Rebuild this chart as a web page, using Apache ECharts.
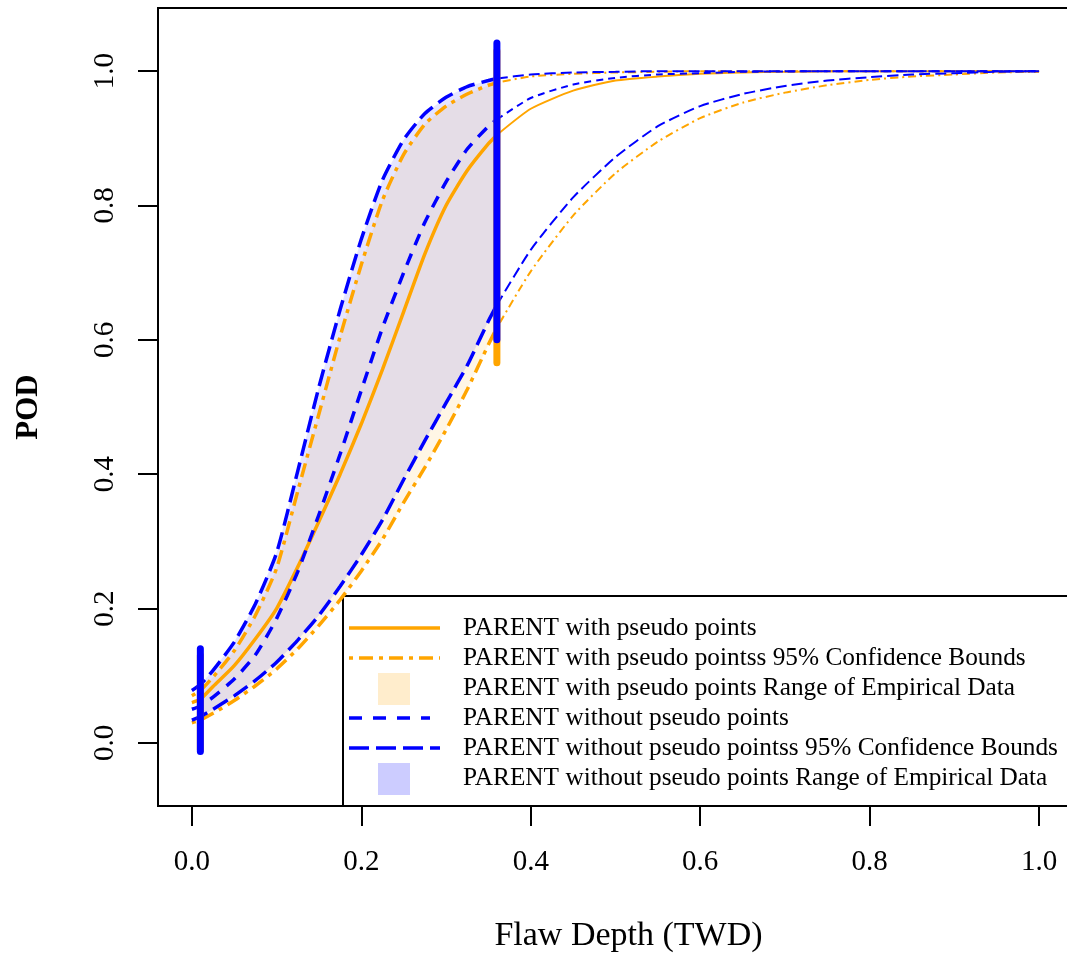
<!DOCTYPE html>
<html><head><meta charset="utf-8">
<script src="https://cdn.jsdelivr.net/npm/echarts@6/dist/echarts.min.js"></script>
<style>html,body{margin:0;padding:0;background:#fff;overflow:hidden;width:1067px;height:955px;}#c{width:1075px;height:955px;}</style>
</head><body><div id="c"></div>
<script>
// ---- data ----
const xs = [0, 0.01, 0.025, 0.05, 0.075, 0.1, 0.125, 0.15, 0.175, 0.2, 0.225, 0.25, 0.275, 0.3, 0.325, 0.35, 0.36, 0.4, 0.45, 0.5, 0.55, 0.6, 0.65, 0.7, 0.75, 0.8, 0.85, 0.9, 0.95, 1.0];
const podWith        = [0.060,0.065,0.084,0.115,0.155,0.200,0.262,0.330,0.400,0.475,0.556,0.642,0.728,0.800,0.852,0.892,0.905,0.944,0.971,0.986,0.992,0.996,0.998,0.999,1.0,1.0,1.0,1.0,1.0,1.0];
const ciWithUpper    = [0.070,0.078,0.098,0.137,0.190,0.260,0.375,0.490,0.605,0.712,0.808,0.876,0.921,0.948,0.966,0.979,0.983,0.992,0.996,0.998,0.999,1.0,1.0,1.0,1.0,1.0,1.0,1.0,1.0,1.0];
const ciWithLower    = [0.030,0.034,0.044,0.063,0.085,0.110,0.140,0.175,0.213,0.256,0.303,0.358,0.410,0.466,0.526,0.593,0.618,0.702,0.785,0.848,0.895,0.930,0.953,0.968,0.979,0.987,0.992,0.995,0.998,0.999];
const podWithout     = [0.050,0.055,0.068,0.095,0.131,0.185,0.255,0.340,0.430,0.525,0.618,0.700,0.775,0.835,0.884,0.918,0.928,0.960,0.980,0.990,0.995,0.997,0.999,0.9995,1.0,1.0,1.0,1.0,1.0,1.0];
const ciWithoutUpper = [0.078,0.087,0.108,0.150,0.207,0.283,0.405,0.530,0.645,0.750,0.838,0.898,0.937,0.961,0.977,0.986,0.989,0.995,0.998,0.999,1.0,1.0,1.0,1.0,1.0,1.0,1.0,1.0,1.0,1.0];
const ciWithoutLower = [0.034,0.039,0.050,0.070,0.093,0.120,0.153,0.190,0.233,0.280,0.332,0.392,0.450,0.506,0.562,0.628,0.652,0.734,0.812,0.872,0.918,0.948,0.966,0.978,0.986,0.991,0.995,0.997,0.999,1.0];
const rangeLimits = [0.01, 0.36];
// vertical range markers: [x, yFrom, yTo]
const segWith    = [[0.01, -0.010, 0.130], [0.36, 0.566, 1.030]];
const segWithout = [[0.01, -0.013, 0.140], [0.36, 0.600, 1.042]];
const xTicks = [0, 0.2, 0.4, 0.6, 0.8, 1.0];
const yTicks = [0, 0.2, 0.4, 0.6, 0.8, 1.0];
const legendLabels = [
  'PARENT with pseudo points',
  'PARENT with pseudo pointss 95% Confidence Bounds',
  'PARENT with pseudo points Range of Empirical Data',
  'PARENT without pseudo points',
  'PARENT without pseudo pointss 95% Confidence Bounds',
  'PARENT without pseudo points Range of Empirical Data'
];

// ---- styles ----
const ORANGE = '#FFA500', BLUE = '#0000FF';
const FONT = 'Liberation Serif';
const W_IN = 3.5, W_OUT = 2;

function pairs(arr, inside) {
  const out = [];
  xs.forEach((x, i) => {
    if (inside ? (x <= rangeLimits[1]) : (x >= rangeLimits[1])) out.push([x, arr[i]]);
  });
  return out;
}
function lineSeries(arr, color, dashIn, dashOut) {
  return [
    {type: 'line', data: pairs(arr, true), showSymbol: false, smooth: 0.2,
     lineStyle: {color: color, width: W_IN, type: dashIn, cap: 'butt'}, silent: true},
    {type: 'line', data: pairs(arr, false), showSymbol: false, smooth: 0.2,
     lineStyle: {color: color, width: W_OUT, type: dashOut, cap: 'butt'}, silent: true}
  ];
}
function fillSeries(upper, lower, fill) {
  return {
    type: 'custom', silent: true, clip: true,
    data: [[rangeLimits[0], lower[1]]],
    renderItem: function (params, api) {
      const pts = [];
      const idx = [];
      xs.forEach((x, i) => { if (x >= rangeLimits[0] && x <= rangeLimits[1]) idx.push(i); });
      idx.forEach(i => pts.push(api.coord([xs[i], upper[i]])));
      idx.slice().reverse().forEach(i => pts.push(api.coord([xs[i], lower[i]])));
      return {type: 'polygon', shape: {points: pts}, style: {fill: fill, stroke: null}};
    }
  };
}
function segSeries(segs, color) {
  return segs.map(s => ({
    type: 'line', data: [[s[0], s[1]], [s[0], s[2]]], showSymbol: false, silent: true,
    lineStyle: {color: color, width: 7, cap: 'round'}
  }));
}

const series = [].concat(
  lineSeries(podWith, ORANGE, 'solid', 'solid'),
  lineSeries(ciWithUpper, ORANGE, [4, 6, 14, 6], [2, 4, 8, 4]),
  lineSeries(ciWithLower, ORANGE, [4, 6, 14, 6], [2, 4, 8, 4]),
  lineSeries(podWithout, BLUE, [12, 9], [7, 5]),
  lineSeries(ciWithoutUpper, BLUE, [17, 7], [11, 5]),
  lineSeries(ciWithoutLower, BLUE, [17, 7], [11, 5]),
  [fillSeries(ciWithUpper, ciWithLower, 'rgba(255,165,0,0.10)'),
   fillSeries(ciWithoutUpper, ciWithoutLower, 'rgba(0,0,255,0.10)')],
  segSeries(segWith, ORANGE),
  segSeries(segWithout, BLUE)
);

// ---- legend (drawn as graphic) ----
const LX = 343, LY = 596, rowY0 = 628, rowH = 30;
const legendEls = [
  {type: 'rect', shape: {x: LX, y: LY, width: 760, height: 210}, style: {fill: '#fff', stroke: '#000', lineWidth: 2}}
];
const legendSamples = [
  {kind: 'line', color: ORANGE, dash: null},
  {kind: 'line', color: ORANGE, dash: [4, 6, 14, 6]},
  {kind: 'box', color: 'rgba(255,165,0,0.2)'},
  {kind: 'line', color: BLUE, dash: [13, 11], x2: 430},
  {kind: 'line', color: BLUE, dash: [20, 7]},
  {kind: 'box', color: 'rgba(0,0,255,0.2)'}
];
legendLabels.forEach((lab, i) => {
  const cy = rowY0 + i * rowH;
  const s = legendSamples[i];
  if (s.kind === 'line') {
    legendEls.push({type: 'line', shape: {x1: 349, y1: cy, x2: s.x2 || 440, y2: cy},
      style: {stroke: s.color, lineWidth: 3.5, lineDash: s.dash}});
  } else {
    legendEls.push({type: 'rect', shape: {x: 378, y: cy - 15, width: 32, height: 32}, style: {fill: s.color}});
  }
  legendEls.push({type: 'text', x: 463, y: cy, style: {text: lab, font: '25.3px "Liberation Serif"', fill: '#000', verticalAlign: 'middle'}});
});

const chart = echarts.init(document.getElementById('c'), null, {renderer: 'canvas'});
chart.setOption({
  animation: false,
  backgroundColor: '#fff',
  grid: {left: 158, top: 8, right: 2, bottom: 149, show: true, borderColor: '#000', borderWidth: 2, backgroundColor: 'transparent', containLabel: false, outerBoundsMode: 'none'},
  xAxis: {
    type: 'value', min: -0.04, max: 1.04,
    axisLine: {show: false, onZero: false},
    axisTick: {show: true, customValues: xTicks, length: 20, lineStyle: {color: '#000', width: 2}},
    axisLabel: {customValues: xTicks, formatter: v => v.toFixed(1), fontSize: 29, color: '#000', fontFamily: FONT, margin: 42},
    splitLine: {show: false},
    name: 'Flaw Depth (TWD)', nameLocation: 'middle', nameGap: 113,
    nameTextStyle: {fontSize: 34, fontFamily: FONT, color: '#000', padding: [0, 0, 0, 26]}
  },
  yAxis: {
    type: 'value', min: -0.094, max: 1.094,
    axisLine: {show: false, onZero: false},
    axisTick: {show: true, customValues: yTicks, length: 20, lineStyle: {color: '#000', width: 2}},
    axisLabel: {customValues: yTicks, formatter: v => v.toFixed(1), fontSize: 29, color: '#000', fontFamily: FONT, rotate: 90, margin: 38},
    splitLine: {show: false},
    name: 'POD', nameLocation: 'middle', nameRotate: 90, nameGap: 114,
    nameTextStyle: {fontSize: 31, fontWeight: 'bold', fontFamily: FONT, color: '#000'}
  },
  series: series,
  graphic: {elements: [{type: 'group', z: 100, children: legendEls}]}
});
</script></body></html>
